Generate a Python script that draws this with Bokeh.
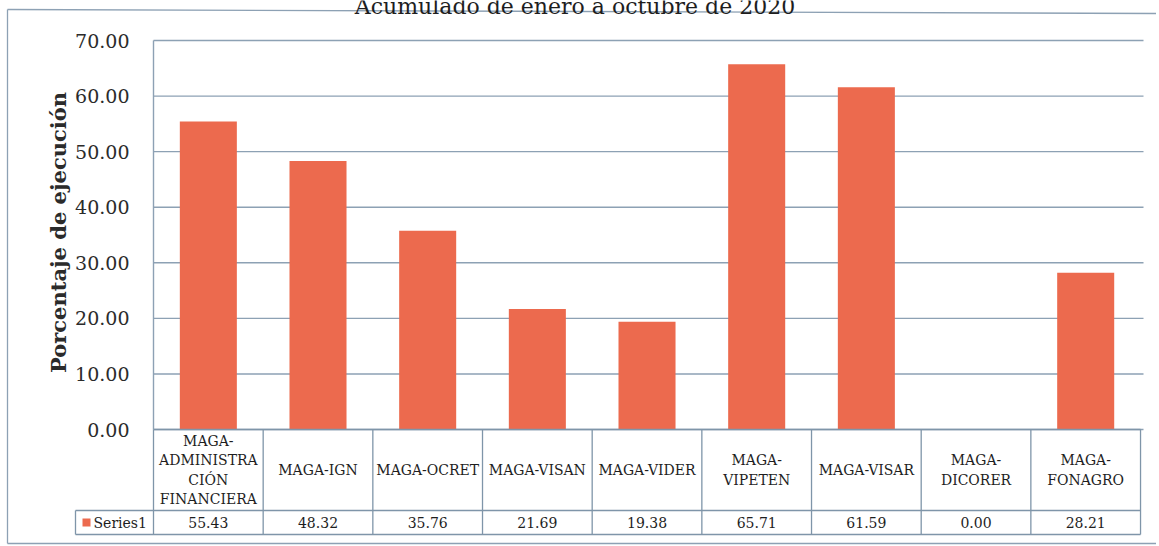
from bokeh.plotting import figure
from bokeh.models import LinearAxis, FixedTicker, NumeralTickFormatter, Range1d
from bokeh.core.properties import value
from bokeh.embed import file_html
from bokeh.resources import INLINE

# ---------------- data ----------------
categories = ["MAGA-ADMINISTRACIÓN FINANCIERA", "MAGA-IGN", "MAGA-OCRET", "MAGA-VISAN",
              "MAGA-VIDER", "MAGA-VIPETEN", "MAGA-VISAR", "MAGA-DICORER", "MAGA-FONAGRO"]
labels = ["MAGA-\nADMINISTRA\nCIÓN\nFINANCIERA", "MAGA-IGN", "MAGA-OCRET", "MAGA-VISAN",
          "MAGA-VIDER", "MAGA-\nVIPETEN", "MAGA-VISAR", "MAGA-\nDICORER", "MAGA-\nFONAGRO"]
values = [55.43, 48.32, 35.76, 21.69, 19.38, 65.71, 61.59, 0.00, 28.21]
series_name = "Series1"
yticks = [0, 10, 20, 30, 40, 50, 60, 70]
title_text = "Acumulado de enero a octubre  de 2020"
ylabel = "Porcentaje de ejecución"

# ---------------- layout (page pixels -> data units) ----------------
W, H = 1156, 545
PAGE_X0, PAGE_Y0 = 0, 0
X0_PX, CAT_PX = 153.0, 109.67       # left of plot area, width of one category
Y0_PX, UNIT_PX = 429.0, 5.557       # y=0 line, px per unit

def xd(px):
    return (px - X0_PX) / CAT_PX

def yd(py):
    return (Y0_PX - py) / UNIT_PX

n = len(categories)
xs = [i + 0.5 for i in range(n)]

BAR = "#EC6A4E"
GRID = "#8DA1B4"
TABLE = "#7F95A9"
TXT = "#1e1e1e"
SERIF = "DejaVu Serif"

p = figure(width=W, height=H, output_backend="svg", toolbar_location=None,
           x_axis_type=None, y_axis_type=None,
           x_range=Range1d(xd(PAGE_X0), xd(PAGE_X0 + W)),
           y_range=Range1d(yd(PAGE_Y0 + H), yd(PAGE_Y0)),
           min_border=0, min_border_left=0, min_border_right=0,
           min_border_top=0, min_border_bottom=0)
p.outline_line_color = None
p.xgrid.visible = False
p.ygrid.visible = False
p.background_fill_color = "white"
p.border_fill_color = "white"

# y axis drawn at the plot-area edge
yaxis = LinearAxis(ticker=FixedTicker(ticks=yticks),
                   formatter=NumeralTickFormatter(format="0.00"),
                   fixed_location=0)
yaxis.axis_line_color = None
yaxis.major_tick_line_color = None
yaxis.minor_tick_line_color = None
yaxis.major_label_text_font = SERIF
yaxis.major_label_text_font_size = "19px"
yaxis.major_label_text_color = "#2b2b2b"
yaxis.major_label_standoff = 18
p.add_layout(yaxis, "left")

# grid lines
grid_right = xd(1143)
p.segment(x0=[0] * len(yticks), y0=yticks, x1=[grid_right] * len(yticks), y1=yticks,
          line_color=GRID, line_width=1.4)

# bars
p.vbar(x=xs, top=values, bottom=0, width=0.52, fill_color=BAR, line_color=None)

# outer chart border (top, left, bottom)
p.segment(x0=[xd(7), xd(7), xd(7)], y0=[yd(9), yd(9), yd(543)],
          x1=[xd(1159), xd(7), xd(1159)], y1=[yd(13), yd(543), yd(543)],
          line_color=GRID, line_width=1.3)

# title (cut at top like the scan)
p.text(x=[xd(578)], y=[yd(6)], text=[title_text], text_font=value(SERIF),
       text_font_size="22px", text_align="center", text_baseline="alphabetic",
       text_color=TXT)

# y-axis label
p.text(x=[xd(58)], y=[yd(232)], text=[ylabel], angle=1.5708,
       text_font=value(SERIF), text_font_style="bold", text_font_size="21px",
       text_align="center", text_baseline="middle", text_color="#2b2b2b")

# ---------------- data table ----------------
y_top = 0
y_div = yd(510)
y_bot = yd(534)
x_leg = xd(75)
# vertical lines of categories
p.segment(x0=list(range(n + 1)), y0=[y_top] * (n + 1), x1=list(range(n + 1)), y1=[y_bot] * (n + 1),
          line_color=TABLE, line_width=1.3)
# plot area left edge
p.segment(x0=[0], y0=[yticks[-1]], x1=[0], y1=[0], line_color=GRID, line_width=1.4)
# horizontal lines
p.segment(x0=[0, x_leg, x_leg], y0=[y_top, y_div, y_bot], x1=[n, n, n], y1=[y_top, y_div, y_bot],
          line_color=TABLE, line_width=1.3)
p.segment(x0=[x_leg], y0=[y_div], x1=[x_leg], y1=[y_bot], line_color=TABLE, line_width=1.3)

# category labels
p.text(x=xs, y=[(y_top + y_div) / 2] * n, text=labels, text_font=value(SERIF),
       text_font_size="14px", text_align="center", text_baseline="middle",
       text_line_height=1.2, text_color=TXT)
# values
p.text(x=xs, y=[(y_div + y_bot) / 2] * n, text=["%.2f" % v for v in values],
       text_font=value(SERIF), text_font_size="14px", text_align="center",
       text_baseline="middle", text_color=TXT)
# legend key
p.rect(x=[xd(86)], y=[(y_div + y_bot) / 2], width=8 / CAT_PX, height=8 / UNIT_PX,
       fill_color=BAR, line_color=None)
p.text(x=[xd(93)], y=[(y_div + y_bot) / 2], text=[series_name], text_font=value(SERIF),
       text_font_size="14px", text_align="left", text_baseline="middle", text_color=TXT)

open("out.html", "w").write(file_html(p, INLINE))
